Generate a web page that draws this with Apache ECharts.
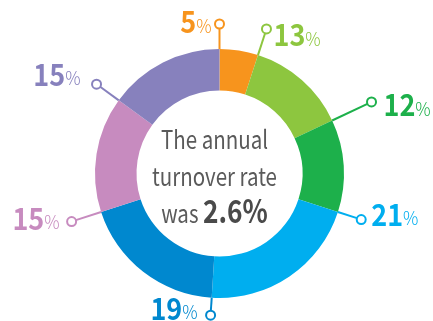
<!DOCTYPE html>
<html>
<head>
<meta charset="utf-8">
<script src="https://cdn.jsdelivr.net/npm/echarts@6/dist/echarts.min.js"></script>
<style>
  html, body { margin: 0; padding: 0; background: #fff; }
  #chart { width: 433px; height: 321px; }
</style>
</head>
<body>
<div id="chart"></div>
<script>
// Share of annual turnover by group (percent), clockwise from 12 o'clock
const shares = [5, 13, 12, 21, 19, 15, 15];
const sliceColors = ['#F7941D', '#8DC63F', '#1DB04B', '#00AEEF', '#0088CF', '#C78BBF', '#8781BD'];
const centerLines = ['The annual', 'turnover rate', 'was'];
const centerValue = '2.6%';

// Leader styling: circle distance from centre (px), text offset from the circle, text alignment
const leaderRadius = [149.5, 152, 168, 149, 142, 155.5, 152];
const labelOffset = [[-8, -2], [7, 6], [12, 3], [10, -5], [-13, -7], [-12, -3], [-16, -10]];
const labelAlign = ['right', 'left', 'left', 'left', 'right', 'right', 'right'];

const FONT = '"Noto Sans CJK KR", "Noto Sans", sans-serif';
const CENTER = [219.5, 173.5];
const OUTER = 124.5, INNER = 83;

// Cumulative start of every slice, used to place its leader on the slice boundary
const starts = [];
shares.reduce((acc, v) => { starts.push(acc); return acc + v; }, 0);

const chart = echarts.init(document.getElementById('chart'), null, { renderer: 'canvas' });

chart.setOption({
  animation: false,
  polar: { center: CENTER, radius: 180 },
  angleAxis: { type: 'value', min: 0, max: 100, startAngle: 90, clockwise: true, show: false },
  radiusAxis: { type: 'value', min: 0, max: 180, show: false },
  graphic: [{
    type: 'text',
    x: 214.5,
    y: 171,
    scaleX: 0.82,
    silent: true,
    style: {
      text: '{t|' + centerLines[0] + '}\n{t|' + centerLines[1] + '}\n{t|' + centerLines[2] + ' }{v|' + centerValue + '}',
      align: 'center',
      verticalAlign: 'middle',
      rich: {
        t: { fontFamily: FONT, fontSize: 25, fill: '#5a5a5a', lineHeight: 37, verticalAlign: 'bottom' },
        v: { fontFamily: FONT, fontSize: 32, fontWeight: 'bold', fill: '#4a4a4a', lineHeight: 37, verticalAlign: 'bottom' }
      }
    }
  }],
  series: [
    {
      type: 'pie',
      center: CENTER,
      radius: [INNER, OUTER],
      startAngle: 90,
      clockwise: true,
      silent: true,
      label: { show: false },
      labelLine: { show: false },
      itemStyle: { borderWidth: 0 },
      data: shares.map((v, i) => ({ value: v, itemStyle: { color: sliceColors[i] } }))
    },
    {
      type: 'custom',
      coordinateSystem: 'polar',
      silent: true,
      data: shares.map((v, i) => [leaderRadius[i], starts[i], i]),
      renderItem: function (params, api) {
        const i = api.value(2);
        const angle = api.value(1);
        const r = api.value(0);
        const color = sliceColors[i];
        const from = api.coord([OUTER, angle]);
        const tip = api.coord([r - 4.5, angle]);
        const dot = api.coord([r, angle]);
        return {
          type: 'group',
          children: [
            { type: 'line', shape: { x1: from[0], y1: from[1], x2: tip[0], y2: tip[1] },
              style: { stroke: color, lineWidth: 2 } },
            { type: 'circle', shape: { cx: dot[0], cy: dot[1], r: 4.5 },
              style: { fill: '#fff', stroke: color, lineWidth: 2 } },
            { type: 'text', x: dot[0] + labelOffset[i][0], y: dot[1] + labelOffset[i][1],
              scaleX: 0.9,
              style: {
                text: '{n|' + shares[i] + '}{p|%}',
                align: labelAlign[i],
                verticalAlign: 'middle',
                rich: {
                  n: { fontFamily: FONT, fontSize: 30, fontWeight: 'bold', fill: color, lineHeight: 30, verticalAlign: 'bottom' },
                  p: { fontFamily: FONT, fontSize: 19, fontWeight: 300, fill: color, lineHeight: 19, verticalAlign: 'bottom', padding: [0, 0, 2, 0] }
                }
              } }
          ]
        };
      }
    }
  ]
});
</script>
</body>
</html>
